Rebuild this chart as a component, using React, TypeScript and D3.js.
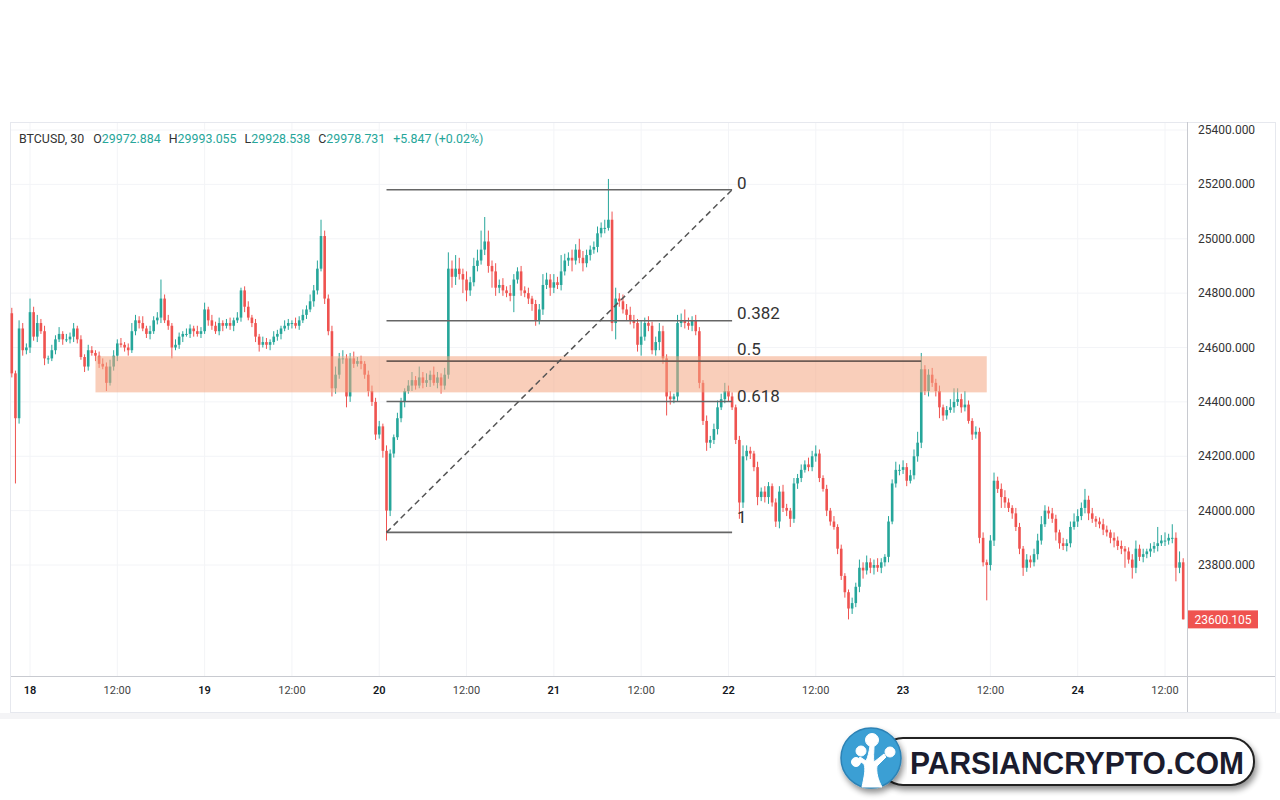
import * as d3 from "d3";

// BTCUSD 30m candles, closes (first candle = 17th 21:30)
const firstIndex = -5;
const firstOpen = 24726;
const closes = [
  24505, 24340, 24670, 24590, 24600, 24730, 24640, 24690, 24660, 24560,
  24560, 24590, 24630, 24650, 24630, 24630, 24640, 24670, 24630, 24565,
  24530, 24590, 24580, 24570, 24540, 24530, 24470, 24530, 24570, 24615,
  24610, 24600, 24590, 24660, 24700, 24690, 24670, 24650, 24660, 24700,
  24710, 24780, 24700, 24680, 24600, 24610, 24640, 24650, 24650, 24670,
  24660, 24650, 24660, 24740, 24700, 24680, 24660, 24690, 24680, 24690,
  24680, 24700, 24710, 24810, 24750, 24710, 24690, 24640, 24610, 24620,
  24610, 24620, 24640, 24650, 24670, 24680, 24690, 24690, 24680, 24700,
  24720, 24740, 24770, 24810, 24890, 25010, 24780, 24660, 24450, 24500,
  24560, 24560, 24420, 24560, 24540, 24550, 24540, 24500, 24440, 24400,
  24280, 24310, 24220, 24000, 24210, 24270, 24340, 24400, 24440, 24460,
  24480, 24460, 24490, 24470, 24480, 24500, 24470, 24490, 24460, 24500,
  24890, 24860, 24890, 24870, 24850, 24810, 24840, 24900, 24920, 24960,
  24990, 24900, 24880, 24820, 24830, 24810, 24800, 24790, 24850, 24880,
  24810, 24800, 24780, 24760, 24700, 24740, 24830, 24850, 24820, 24840,
  24830, 24880, 24920, 24930, 24920, 24960, 24930, 24910, 24940, 24960,
  24970, 25020, 25040, 25040, 25070, 24690, 24780, 24770, 24740, 24720,
  24700, 24690, 24610, 24640, 24690, 24680, 24590, 24620, 24660, 24560,
  24420, 24410, 24420, 24690, 24700, 24690, 24680, 24700, 24660, 24470,
  24330, 24250, 24260, 24300, 24380, 24410, 24440, 24420, 24380, 24260,
  24030, 24200, 24220, 24210, 24160, 24050, 24070, 24050, 24090, 24030,
  23960, 24070, 24010, 24000, 23970, 24100, 24120, 24150, 24170, 24160,
  24200, 24210, 24120, 24080, 24000, 23960, 23940, 23860, 23760, 23700,
  23640, 23660, 23720, 23790, 23780, 23810, 23790, 23800, 23790, 23810,
  23830, 23960, 24100, 24150, 24150, 24160, 24110, 24130, 24200, 24250,
  24520, 24440, 24500, 24470, 24440, 24380, 24350, 24370, 24380, 24400,
  24410, 24380, 24390, 24330, 24280, 24290, 23900, 23810, 23800, 23890,
  24110, 24080, 24050, 24030, 24010, 23990, 23940, 23860, 23790, 23820,
  23810, 23840, 23890, 23950, 24000, 23990, 23970, 23920, 23880, 23870,
  23880, 23940, 23960, 23980, 24010, 24040, 23990, 23970, 23960, 23950,
  23930, 23920, 23900, 23890, 23870, 23860, 23850, 23820, 23790, 23860,
  23830, 23840, 23850, 23860, 23870, 23880, 23890, 23890, 23900, 23900,
  23790, 23810, 23600.105,
];
const wickUp = [
  20, 10, 30, 20, 15, 50, 20, 30, 15, 20,
  10, 20, 15, 25, 10, 20, 15, 20, 10, 15,
  10, 20, 15, 10, 15, 20, 15, 25, 20, 15,
  20, 10, 15, 30, 20, 15, 25, 10, 20, 15,
  20, 70, 15, 20, 10, 20, 15, 10, 20, 15,
  10, 20, 15, 25, 10, 20, 15, 20, 10, 15,
  20, 10, 20, 10, 15, 20, 10, 15, 10, 20,
  15, 10, 20, 15, 10, 20, 15, 10, 20, 15,
  20, 15, 25, 20, 30, 60, 20, 15, 20, 30,
  20, 30, 15, 20, 25, 15, 20, 10, 15, 20,
  15, 20, 10, 20, 15, 10, 20, 15, 10, 20,
  30, 15, 40, 20, 25, 15, 30, 20, 15, 25,
  60, 30, 50, 40, 20, 30, 20, 30, 40, 70,
  90, 40, 20, 30, 20, 25, 15, 30, 20, 15,
  20, 15, 20, 10, 15, 20, 40, 25, 20, 30,
  20, 60, 25, 20, 30, 20, 40, 25, 20, 15,
  20, 25, 20, 30, 150, 30, 40, 20, 25, 20,
  30, 20, 15, 60, 20, 25, 15, 20, 30, 20,
  15, 20, 10, 30, 25, 40, 20, 15, 20, 15,
  10, 20, 15, 20, 25, 20, 30, 20, 15, 10,
  15, 40, 20, 15, 10, 20, 15, 20, 15, 10,
  15, 20, 25, 15, 10, 20, 15, 20, 15, 25,
  20, 30, 15, 10, 15, 10, 20, 10, 15, 10,
  10, 20, 15, 30, 20, 25, 15, 20, 25, 15,
  10, 20, 15, 30, 20, 25, 15, 20, 25, 40,
  60, 15, 20, 25, 15, 20, 10, 15, 30, 50,
  40, 20, 50, 15, 10, 20, 15, 20, 10, 20,
  30, 15, 20, 25, 15, 10, 20, 15, 10, 20,
  15, 20, 25, 30, 20, 15, 20, 15, 10, 20,
  15, 20, 30, 25, 20, 40, 15, 20, 10, 15,
  20, 15, 10, 20, 15, 20, 10, 15, 20, 30,
  15, 20, 10, 20, 15, 60, 20, 30, 15, 50,
  20, 40, 15,
];
const wickDown = [
  15, 240, 20, 20, 15, 20, 15, 20, 10, 25,
  20, 10, 15, 10, 20, 10, 15, 20, 15, 10,
  20, 15, 10, 20, 15, 10, 30, 10, 15, 20,
  10, 15, 20, 10, 15, 20, 10, 15, 20, 10,
  15, 20, 10, 15, 40, 10, 15, 20, 10, 15,
  20, 10, 15, 10, 20, 15, 10, 15, 20, 10,
  15, 20, 10, 15, 20, 10, 15, 20, 25, 10,
  15, 20, 10, 15, 20, 10, 15, 20, 10, 15,
  10, 15, 10, 20, 15, 10, 20, 15, 30, 20,
  15, 20, 40, 20, 15, 10, 20, 15, 20, 15,
  20, 15, 25, 110, 20, 15, 10, 15, 20, 10,
  20, 15, 10, 20, 15, 25, 10, 20, 30, 15,
  15, 40, 30, 20, 50, 40, 20, 15, 20, 15,
  20, 25, 60, 30, 20, 20, 15, 20, 60, 15,
  20, 15, 20, 25, 20, 15, 20, 15, 30, 20,
  15, 20, 15, 20, 40, 15, 20, 30, 15, 20,
  15, 20, 15, 20, 10, 30, 60, 20, 15, 20,
  15, 20, 25, 40, 15, 20, 15, 20, 30, 20,
  70, 20, 15, 20, 15, 20, 15, 20, 15, 20,
  15, 30, 20, 15, 20, 10, 15, 20, 10, 15,
  60, 20, 15, 20, 15, 30, 15, 20, 25, 15,
  20, 25, 15, 20, 30, 15, 20, 15, 10, 15,
  15, 20, 15, 10, 20, 15, 10, 20, 15, 20,
  40, 20, 15, 20, 30, 15, 20, 25, 15, 20,
  15, 20, 10, 15, 20, 15, 20, 10, 15, 20,
  20, 15, 20, 15, 20, 40, 20, 15, 10, 20,
  15, 20, 15, 10, 20, 15, 20, 15, 130, 20,
  20, 15, 40, 20, 15, 20, 15, 20, 30, 15,
  20, 15, 20, 15, 10, 20, 15, 30, 20, 15,
  20, 15, 10, 20, 15, 20, 25, 15, 20, 15,
  20, 15, 20, 25, 15, 20, 60, 15, 40, 20,
  15, 20, 15, 20, 15, 20, 10, 20, 15, 20,
  50, 20, 0,
];

const priceTicks = [25400, 25200, 25000, 24800, 24600, 24400, 24200, 24000, 23800];
const timeTicks = [0, 24, 48, 72, 96, 120, 144, 168, 192, 216, 240, 264, 288, 312];
const timeLabels = ["18", "12:00", "19", "12:00", "20", "12:00", "21", "12:00", "22", "12:00", "23", "12:00", "24", "12:00"];

const fibLevels = [0, 0.382, 0.5, 0.618, 1];
const fibLabels = ["0", "0.382", "0.5", "0.618", "1"];
const fibHigh = 25180;
const fibLow = 23920;
const fibStart = 98;
const fibEnd = 193;
const fibHalfEnd = 245;

const zoneTop = 24568;
const zoneBottom = 24435;
const zoneStart = 18;
const zoneEnd = 263;

const lastPrice = 23600.105;
const header = { symbol: "BTCUSD, 30", o: "29972.884", h: "29993.055", l: "29928.538", c: "29978.731", chg: "+5.847 (+0.02%)" };

const UP = "#26a69a";
const DOWN = "#ef5350";

export default function App() {
  const x = d3.scaleLinear().domain([0, 312]).range([30, 1165]);
  const y = d3.scaleLinear().domain([23600, 25400]).range([619.4, 130]);

  const candles = closes.map((c, i) => {
    const o = i === 0 ? firstOpen : closes[i - 1];
    const high = Math.max(o, c) + (wickUp[i] ?? 0);
    const low = Math.min(o, c) - (wickDown[i] ?? 0);
    return { t: firstIndex + i, o, c, high, low };
  });

  const fibPrice = (lv: number) => fibHigh - (fibHigh - fibLow) * lv;
  const labelShift = [1, 2, 6, 0, 9];
  const font = "Roboto, 'Noto Sans', sans-serif";

  return (
    <svg width={1280} height={800} style={{ position: "absolute", left: 0, top: 0, background: "#fff" }}>
      <defs>
        <filter id="sh" x="-10%" y="-30%" width="120%" height="180%">
          <feGaussianBlur in="SourceAlpha" stdDeviation="3" />
          <feOffset dx="2" dy="4" result="b" />
          <feComponentTransfer><feFuncA type="linear" slope="0.45" /></feComponentTransfer>
          <feMerge><feMergeNode /><feMergeNode in="SourceGraphic" /></feMerge>
        </filter>
      </defs>
      <rect x={0} y={0} width={1280} height={800} fill="#fff" />
      {/* panel */}
      <rect x={10.5} y={122.5} width={1265} height={590} fill="#fff" stroke="#e6e8ee" />
      <rect x={0} y={713} width={1280} height={6} fill="#f4f4f6" />
      {/* grid */}
      {priceTicks.map((p) => (
        <line key={"h" + p} x1={11} x2={1187} y1={y(p)} y2={y(p)} stroke="#f3f4f7" />
      ))}
      {timeTicks.map((t) => (
        <line key={"v" + t} x1={x(t)} x2={x(t)} y1={123} y2={676} stroke="#f3f4f7" />
      ))}

      {/* candles */}
      {candles.map((d) => {
        const col = d.c >= d.o ? UP : DOWN;
        const top = y(Math.max(d.o, d.c));
        const h = Math.max(1, Math.abs(y(d.o) - y(d.c)));
        return (
          <g key={d.t}>
            <line x1={x(d.t)} x2={x(d.t)} y1={y(d.high)} y2={y(d.low)} stroke={col} strokeWidth={1} />
            <rect x={x(d.t) - 1.3} y={top} width={2.6} height={h} fill={col} />
          </g>
        );
      })}

      {/* zone */}
      <rect x={x(zoneStart)} y={y(zoneTop)} width={x(zoneEnd) - x(zoneStart)} height={y(zoneBottom) - y(zoneTop)} fill="#f4a582" opacity={0.55} />

      {/* fibonacci */}
      {fibLevels.map((lv, i) => (
        <g key={lv}>
          <line x1={x(fibStart)} x2={x(lv === 0.5 ? fibHalfEnd : fibEnd)} y1={y(fibPrice(lv))} y2={y(fibPrice(lv))} stroke={lv === 0.5 ? "#6e5c55" : "#666"} strokeWidth={1.6} />
          <text x={x(fibEnd) + 5} y={y(fibPrice(lv)) - labelShift[i]} fontFamily={font} fontSize={17} fill="#333">{fibLabels[i]}</text>
        </g>
      ))}
      <line x1={x(fibStart)} y1={y(fibLow)} x2={x(fibEnd)} y2={y(fibHigh)} stroke="#555" strokeWidth={1.5} strokeDasharray="6 4" />

      {/* axes separators */}
      <line x1={1187.5} x2={1187.5} y1={122} y2={712} stroke="#c8cad0" />
      <line x1={11} x2={1275} y1={676.5} y2={676.5} stroke="#c8cad0" />

      {/* price axis */}
      {priceTicks.map((p) => (
        <text key={"p" + p} x={1198} y={y(p) + 4} fontFamily={font} fontSize={12} fill="#333">{p.toFixed(3)}</text>
      ))}
      <rect x={1188} y={y(lastPrice) - 9} width={70} height={18} fill={DOWN} />
      <text x={1223} y={y(lastPrice) + 4.5} textAnchor="middle" fontFamily={font} fontSize={12} fill="#fff">{lastPrice.toFixed(3)}</text>

      {/* time axis */}
      {timeTicks.map((t, i) => (
        <text key={"t" + t} x={x(t)} y={694} textAnchor="middle" fontFamily={font} fontSize={11}
          fill={timeLabels[i] === "12:00" ? "#444" : "#131722"} fontWeight={timeLabels[i] === "12:00" ? 400 : 600}>
          {timeLabels[i]}
        </text>
      ))}

      {/* legend header */}
      <text x={19} y={143} fontFamily={font} fontSize={12.4} fill="#333">
        {header.symbol}
        <tspan dx={9}>O</tspan><tspan fill={UP}>{header.o}</tspan>
        <tspan dx={8}>H</tspan><tspan fill={UP}>{header.h}</tspan>
        <tspan dx={8}>L</tspan><tspan fill={UP}>{header.l}</tspan>
        <tspan dx={8}>C</tspan><tspan fill={UP}>{header.c}</tspan>
        <tspan dx={8} fill={UP}>{header.chg}</tspan>
      </text>

      {/* watermark logo */}
      <g filter="url(#sh)">
        <rect x={880} y={738} width={374} height={47} rx={23} fill="#fff" stroke="#222" strokeWidth={2} />
      </g>
      <text x={910} y={774} fontFamily="'Liberation Sans Narrow', 'Liberation Sans', Arial, sans-serif" fontWeight={700} fontSize={32} fill="#1b1c2e" textLength={334} lengthAdjust="spacingAndGlyphs">PARSIANCRYPTO.COM</text>
      <g filter="url(#sh)">
        <circle cx={871} cy={758} r={30} fill="#3a9fd4" stroke="#2d82b5" strokeWidth={1.5} />
      </g>
      <g fill="#fff" stroke="#fff">
        <path d="M862,787 C864,777 866,770 864,764 L858,760 L860,757 L866,761 C868,757 869,752 870,746 L874,746 C874,752 873,757 874,762 L884,754 L886,757 L877,766 C876,772 878,780 882,787 Z" strokeWidth={1} />
        <circle cx={872} cy={740} r={6.5} />
        <circle cx={861} cy={751} r={5} />
        <circle cx={890} cy={752} r={5} />
        <circle cx={856} cy={762} r={4.5} />
      </g>
    </svg>
  );
}
